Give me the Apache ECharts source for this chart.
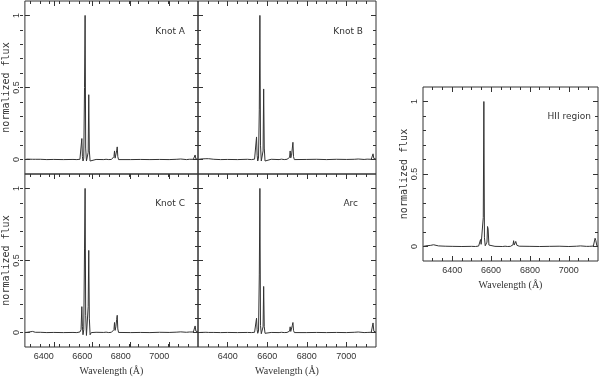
<!DOCTYPE html>
<html>
<head>
<meta charset="utf-8">
<script src="https://cdn.jsdelivr.net/npm/echarts@6/dist/echarts.min.js"></script>
<style>html,body{margin:0;padding:0;background:#fff}#c{width:600px;height:377px}</style>
</head>
<body>
<div id="c"></div>
<script>
// Wavelength samples (Å) shared by all spectra
const wave = [
  6250, 6262, 6270, 6290, 6296, 6300, 6304, 6310, 6330, 6364,
  6400, 6450, 6500, 6520, 6536, 6542, 6546, 6549, 6552, 6556,
  6560, 6563, 6566, 6570, 6575, 6579, 6582, 6585, 6589, 6595,
  6620, 6660, 6672, 6677, 6680, 6686, 6700, 6708, 6713, 6716,
  6719, 6723, 6727, 6730, 6733, 6737, 6745, 6800, 6850, 6900,
  6950, 7000, 7040, 7060, 7065, 7070, 7090, 7105, 7110, 7115,
  7126, 7131, 7135, 7139, 7144, 7150
];
const fluxKnotA = [
  0, 0.003, 0, 0.002, 0.004, 0.006, 0.002, 0, 0.002, 0,
  0.001, 0, 0.001, 0, 0.002, 0.01, 0.146, 0.02, -0.01, 0.01,
  0.5, 1.0, 0.08, -0.01, 0, 0.05, 0.45, 0.06, -0.01, 0,
  0.001, 0, 0.002, 0.012, 0.003, 0, 0.001, 0, 0.02, 0.06,
  0.01, 0.02, 0.06, 0.088, 0.02, 0, 0.004, 0, 0.001, 0,
  0.001, 0, 0.002, 0.004, 0.012, 0.002, 0, 0.002, 0.004, 0,
  0.002, 0.008, 0.032, 0.005, 0, 0.002
];
const fluxKnotB = [
  0, 0.004, 0.002, 0.006, 0.012, 0.018, 0.006, 0.001, 0.002, 0,
  0.001, 0, 0.002, 0, 0.003, 0.012, 0.157, 0.03, -0.01, 0.01,
  0.35, 1.0, 0.1, -0.01, 0, 0.06, 0.49, 0.08, -0.01, 0,
  0.002, 0, 0.003, 0.012, 0.003, 0, 0.002, 0.001, 0.015, 0.06,
  0.012, 0.03, 0.08, 0.12, 0.02, 0, 0.003, 0.001, 0.002, 0,
  0.002, 0.001, 0.002, 0.004, 0.01, 0.003, 0.001, 0.003, 0.006, 0.002,
  0.002, 0.01, 0.04, 0.008, 0.001, 0.003
];
const fluxKnotC = [
  0, 0.002, 0.006, 0.008, 0.004, 0.006, 0.002, 0, 0.002, 0,
  0.001, 0, 0.001, 0, 0.004, 0.02, 0.18, 0.04, -0.015, 0.02,
  0.58, 1.0, 0.12, -0.02, -0.01, 0.18, 0.57, 0.1, -0.015, 0,
  0.002, 0.001, 0.003, 0.012, 0.003, 0, 0.002, 0.002, 0.02, 0.07,
  0.015, 0.04, 0.09, 0.12, 0.025, 0.001, 0.003, 0, 0.001, 0,
  0.002, 0.001, 0.003, 0.005, 0.012, 0.003, 0.002, 0.004, 0.012, 0.003,
  0.004, 0.015, 0.046, 0.01, 0.002, 0.004
];
const fluxArc = [
  0, 0.001, 0, 0.002, 0.003, 0.004, 0.001, 0, 0.001, 0,
  0.001, 0, 0.001, 0, 0.002, 0.01, 0.10, 0.02, -0.005, 0.01,
  0.4, 1.0, 0.05, -0.008, 0, 0.04, 0.32, 0.04, -0.005, 0,
  0.001, 0, 0.002, 0.008, 0.002, 0, 0.001, 0.001, 0.01, 0.04,
  0.008, 0.02, 0.05, 0.07, 0.015, 0, 0.002, 0, 0.001, 0,
  0.001, 0, 0.002, 0.004, 0.01, 0.002, 0, 0.001, 0.002, 0,
  0.002, 0.015, 0.067, 0.01, 0.001, 0.002
];
const fluxHII = [
  0, 0.004, 0.002, 0.008, 0.012, 0.01, 0.012, 0.008, 0.004, 0.002,
  0.001, 0, 0.001, 0, 0.003, 0.01, 0.048, 0.015, 0.005, 0.01,
  0.2, 1.0, 0.06, 0.005, 0.002, 0.03, 0.138, 0.12, 0.01, 0.002,
  0.001, 0, 0.002, 0.008, 0.002, 0, 0.001, 0.002, 0.012, 0.04,
  0.01, 0.01, 0.035, 0.03, 0.008, 0.001, 0.002, 0.001, 0, 0.001,
  0.002, 0, 0.002, 0.004, 0.006, 0.003, 0.001, 0.001, 0.002, 0,
  0.003, 0.015, 0.057, 0.04, 0.005, 0.002
];
const panelNames = ['Knot A', 'Knot B', 'Knot C', 'Arc', 'HII region'];
const xMajorTicks = [6400, 6600, 6800, 7000];
const xMinorTicks = [6300, 6350, 6400, 6450, 6500, 6550, 6600, 6650, 6700, 6750, 6800, 6850, 6900, 6950, 7000, 7050, 7100];
const yMajorTicks = [0, 0.5, 1];
const yMinorTicks = [0, 0.1, 0.2, 0.3, 0.4, 0.5, 0.6, 0.7, 0.8, 0.9, 1];
const xTitle = 'Wavelength (Å)';
const yTitle = 'normalized flux';

const fluxes = [fluxKnotA, fluxKnotB, fluxKnotC, fluxArc, fluxHII];
const XMIN = 6250, XMAX = 7150, YMIN = -0.1, YMAX = 1.1;

// layout of panels
const panels = [
  {left: 20, top: 1, width: 178, height: 173, xLab: false, yLab: true, bottomTicks: false, labelAlign: 'center', tRight: 415, tTop: 27},
  {left: 198, top: 1, width: 178, height: 173, xLab: false, yLab: false, bottomTicks: false, labelAlign: 'center', tRight: 237, tTop: 27},
  {left: 20, top: 174, width: 178, height: 173, xLab: true, yLab: true, bottomTicks: true, labelAlign: 'right', tRight: 415, tTop: 199},
  {left: 198, top: 174, width: 178, height: 173, xLab: true, yLab: false, bottomTicks: true, labelAlign: 'center', tRight: 242, tTop: 199},
  {left: 423, top: 87, width: 175, height: 174, xLab: true, yLab: true, bottomTicks: true, labelAlign: 'center', tRight: 9, tTop: 112}
];

const TXT = '#333';
const LINE = '#333';
const grids = [], xAxes = [], yAxes = [], series = [], titles = [];

function addGrid(p, major, g) {
  const gi = grids.length;
  grids.push({left: p.left, top: p.top, width: p.width, height: p.height, show: major,
    borderColor: LINE, borderWidth: 1, backgroundColor: 'transparent', containLabel: false});
  const xt = major ? xMajorTicks : xMinorTicks;
  const yt = major ? yMajorTicks : yMinorTicks;
  const len = major ? 5 : 3;
  const noLine = {show: false, onZero: false};
  const xb = xAxes.length;
  xAxes.push({type: 'value', gridIndex: gi, min: XMIN, max: XMAX, position: 'bottom',
    axisLine: noLine, splitLine: {show: false},
    axisTick: {show: p.bottomTicks, inside: true, length: len, customValues: xt, lineStyle: {color: LINE}},
    axisLabel: {show: major && p.xLab, customValues: xMajorTicks, margin: 5, fontSize: 9, color: TXT,
      fontFamily: 'Liberation Sans', align: p.labelAlign, formatter: v => String(v)},
    name: (major && p.xLab) ? xTitle : '', nameLocation: 'middle', nameGap: 19,
    nameTextStyle: {fontSize: 10, color: TXT, fontFamily: 'Liberation Serif'}});
  xAxes.push({type: 'value', gridIndex: gi, min: XMIN, max: XMAX, position: 'top',
    axisLine: noLine, splitLine: {show: false}, axisLabel: {show: false},
    axisTick: {show: true, inside: true, length: len, customValues: xt, lineStyle: {color: LINE}}});
  const yl = yAxes.length;
  yAxes.push({type: 'value', gridIndex: gi, min: YMIN, max: YMAX, position: 'left',
    axisLine: noLine, splitLine: {show: false},
    axisTick: {show: true, inside: true, length: len, customValues: yt, lineStyle: {color: LINE}},
    axisLabel: {show: major && p.yLab, customValues: yMajorTicks, rotate: 90, margin: 4, fontSize: 9, color: TXT,
      fontFamily: 'Liberation Sans', formatter: v => String(v)},
    name: (major && p.yLab) ? yTitle : '', nameLocation: 'middle', nameRotate: 90, nameGap: 12,
    nameTextStyle: {fontSize: 10, color: TXT, fontFamily: 'DejaVu Sans Mono'}});
  yAxes.push({type: 'value', gridIndex: gi, min: YMIN, max: YMAX, position: 'right',
    axisLine: noLine, splitLine: {show: false}, axisLabel: {show: false},
    axisTick: {show: true, inside: true, length: len, customValues: yt, lineStyle: {color: LINE}}});
  if (major) {
    series.push({type: 'line', xAxisIndex: xb, yAxisIndex: yl, showSymbol: false,
      data: wave.map((w, i) => [w, fluxes[g][i]]),
      lineStyle: {width: 1, color: '#333'}, clip: true, silent: true});
  }
}

panels.forEach((p, g) => {
  addGrid(p, true, g);
  addGrid(p, false, g);
  titles.push({text: panelNames[g], right: p.tRight, top: p.tTop, padding: 0,
    textStyle: {fontSize: 9, fontWeight: 'normal', color: TXT, fontFamily: 'DejaVu Sans'}});
});

const chart = echarts.init(document.getElementById('c'), null, {renderer: 'canvas'});
chart.setOption({animation: false, title: titles, grid: grids, xAxis: xAxes, yAxis: yAxes, series: series});
</script>
</body>
</html>
